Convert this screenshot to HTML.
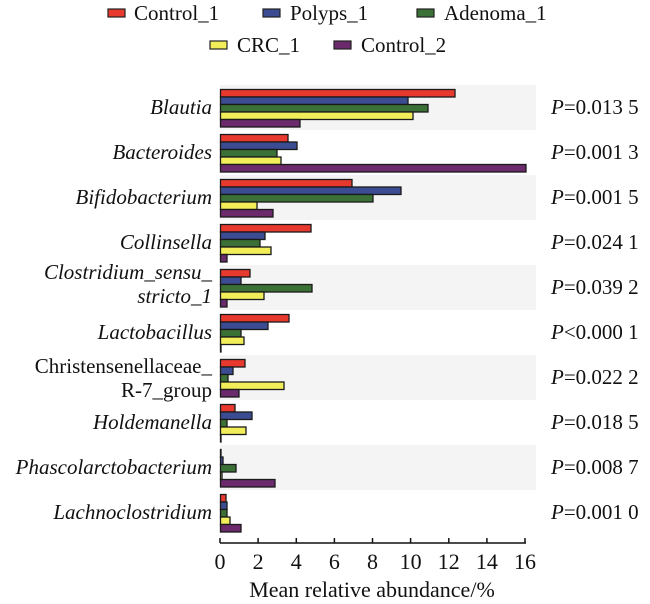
<!DOCTYPE html>
<html><head><meta charset="utf-8"><style>
html,body{margin:0;padding:0;background:#fff;}
svg{display:block;}
text{font-family:"Liberation Serif","DejaVu Serif","Noto Serif CJK SC",serif;}
</style></head><body>
<svg width="650" height="604" viewBox="0 0 650 604" xmlns="http://www.w3.org/2000/svg">
<g font-size="21" fill="#111">
<rect x="108" y="9" width="17" height="8" fill="#e8392f" stroke="#222" stroke-width="1.2"/><text x="134" y="20">Control_1</text>
<rect x="263" y="9" width="17" height="8" fill="#3c4c93" stroke="#222" stroke-width="1.2"/><text x="290" y="20">Polyps_1</text>
<rect x="417" y="9" width="17" height="8" fill="#3b7136" stroke="#222" stroke-width="1.2"/><text x="444" y="20">Adenoma_1</text>
<rect x="210" y="41" width="17" height="8" fill="#f2ee5a" stroke="#222" stroke-width="1.2"/><text x="237" y="52">CRC_1</text>
<rect x="334" y="41" width="17" height="8" fill="#6a2a6c" stroke="#222" stroke-width="1.2"/><text x="361" y="52">Control_2</text>
</g>
<g fill="#f4f4f4">
<rect x="220" y="85" width="316" height="45"/>
<rect x="220" y="175" width="316" height="45"/>
<rect x="220" y="265" width="316" height="45"/>
<rect x="220" y="355" width="316" height="45"/>
<rect x="220" y="445" width="316" height="45"/>
</g>
<g id="bars" stroke="#1a1a1a" stroke-width="1.3"></g>
<g font-size="21" fill="#111" text-anchor="end">
<text x="212" y="114" font-style="italic">Blautia</text>
<text x="212" y="159" font-style="italic">Bacteroides</text>
<text x="212" y="204" font-style="italic">Bifidobacterium</text>
<text x="212" y="249" font-style="italic">Collinsella</text>
<text x="212" y="279" font-style="italic">Clostridium_sensu_</text>
<text x="212" y="303" font-style="italic">stricto_1</text>
<text x="212" y="339" font-style="italic">Lactobacillus</text>
<text x="212" y="373">Christensenellaceae_</text>
<text x="212" y="397">R-7_group</text>
<text x="212" y="429" font-style="italic">Holdemanella</text>
<text x="212" y="474" font-style="italic">Phascolarctobacterium</text>
<text x="212" y="519" font-style="italic">Lachnoclostridium</text>
</g>
<g font-size="21" fill="#111">
<text x="551" y="114"><tspan font-style="italic">P</tspan>=0.013 5</text>
<text x="551" y="159"><tspan font-style="italic">P</tspan>=0.001 3</text>
<text x="551" y="204"><tspan font-style="italic">P</tspan>=0.001 5</text>
<text x="551" y="249"><tspan font-style="italic">P</tspan>=0.024 1</text>
<text x="551" y="294"><tspan font-style="italic">P</tspan>=0.039 2</text>
<text x="551" y="339"><tspan font-style="italic">P</tspan>&lt;0.000 1</text>
<text x="551" y="384"><tspan font-style="italic">P</tspan>=0.022 2</text>
<text x="551" y="429"><tspan font-style="italic">P</tspan>=0.018 5</text>
<text x="551" y="474"><tspan font-style="italic">P</tspan>=0.008 7</text>
<text x="551" y="519"><tspan font-style="italic">P</tspan>=0.001 0</text>
</g>
<g stroke="#111" stroke-width="1.5">
<line x1="220" y1="543" x2="526" y2="543"/>
<line x1="220" y1="543" x2="220" y2="538"/><line x1="258.1" y1="543" x2="258.1" y2="538"/>
<line x1="296.3" y1="543" x2="296.3" y2="538"/><line x1="334.4" y1="543" x2="334.4" y2="538"/>
<line x1="372.5" y1="543" x2="372.5" y2="538"/><line x1="410.6" y1="543" x2="410.6" y2="538"/>
<line x1="448.8" y1="543" x2="448.8" y2="538"/><line x1="486.9" y1="543" x2="486.9" y2="538"/>
<line x1="525" y1="543" x2="525" y2="538"/>
</g>
<g font-size="22" fill="#111" text-anchor="middle">
<text x="220" y="569">0</text><text x="258.1" y="569">2</text><text x="296.3" y="569">4</text>
<text x="334.4" y="569">6</text><text x="372.5" y="569">8</text><text x="410.6" y="569">10</text>
<text x="448.8" y="569">12</text><text x="486.9" y="569">14</text><text x="525" y="569">16</text>
<text x="372" y="597">Mean relative abundance/%</text>
</g>
<script>
var ends=[[455,408,428,413,300],[288,297,277,281,526],[352,401,373,257,273],[311,265,260,271,227],[250,241,312,264,227],[289,268,241,244,221],[245,233,228,284,239],[235,252,227,246,221],[221,223,236,222,275],[226,227,227,230,241]];
var cols=["#e8392f","#3c4c93","#3b7136","#f2ee5a","#6a2a6c"];
var g=document.getElementById("bars"),ns="http://www.w3.org/2000/svg";
for(var i=0;i<10;i++)for(var j=0;j<5;j++){var r=document.createElementNS(ns,"rect");
r.setAttribute("x",220.5);r.setAttribute("y",89.5+45*i+7.5*j);r.setAttribute("width",Math.max(0.5,ends[i][j]-220.5));
r.setAttribute("height",7.5);r.setAttribute("fill",cols[j]);g.appendChild(r);}
</script>
</svg>
</body></html>
